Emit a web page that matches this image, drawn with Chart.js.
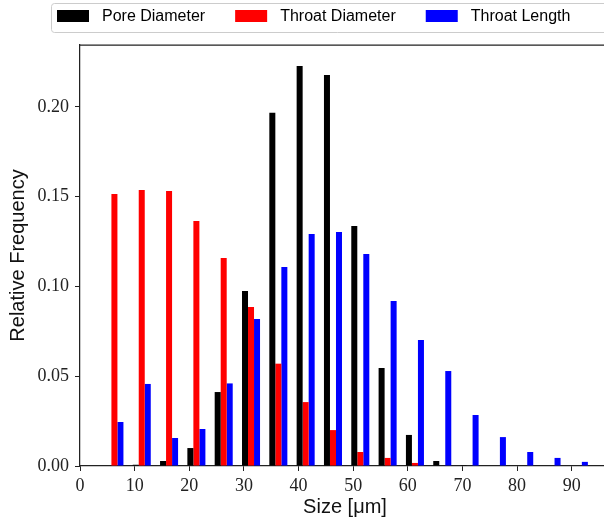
<!DOCTYPE html>
<html>
<head>
<meta charset="utf-8">
<script src="https://cdn.jsdelivr.net/npm/chart.js@4.4.1/dist/chart.umd.min.js"></script>
<style>
  html, body { margin: 0; padding: 0; overflow: hidden; background: #fff; }
  #wrap { width: 620px; height: 523px; }
</style>
</head>
<body>
<div id="wrap"><canvas id="histChart"></canvas></div>
<script>
// bin start of each group of bars (um)
const bins = [0, 5, 10, 15, 20, 25, 30, 35, 40, 45, 50, 55, 60, 65, 70, 75, 80, 85, 90];

// relative frequency per bin
const poreDiameter   = [0, 0, 0.0007, 0.0028, 0.010, 0.0412, 0.0975, 0.1967, 0.2228, 0.2178, 0.1337, 0.0546, 0.0173, 0.0028, 0.0005, 0, 0, 0, 0];
const throatDiameter = [0, 0.1515, 0.1538, 0.1532, 0.1365, 0.1159, 0.0886, 0.0570, 0.0356, 0.0200, 0.0078, 0.0045, 0.0017, 0, 0, 0, 0, 0, 0];
const throatLength   = [0, 0.0245, 0.0457, 0.0156, 0.0206, 0.0460, 0.0819, 0.1109, 0.1292, 0.1304, 0.1181, 0.0919, 0.0702, 0.0529, 0.0284, 0.0161, 0.0078, 0.0045, 0.0023];

const xTickStep = 10;
const yTicks = [0, 0.05, 0.10, 0.15, 0.20];

const groupOffset = 1.3; // groups sit a little right of the bin start

function toPoints(values) {
    return bins.map((b, i) => ({ x: b + groupOffset, y: values[i] }));
}

const axisColor = '#222';
const serifTicks = { family: '"Liberation Serif", "DejaVu Serif", serif', size: 18 };
const sansTitle = { family: '"Liberation Sans", Arial, sans-serif', size: 20 };

// matplotlib style legend box across the top
const legendBox = {
    id: 'legendBox',
    afterDraw(chart) {
        const ctx = chart.ctx;
        ctx.save();
        ctx.fillStyle = 'rgba(255,255,255,0.8)';
        ctx.strokeStyle = '#cccccc';
        ctx.lineWidth = 1;
        ctx.beginPath();
        ctx.roundRect(51.5, 3.5, 600, 29, 3);
        ctx.fill();
        ctx.stroke();

        ctx.font = '16px "Liberation Sans", Arial, sans-serif';
        ctx.textBaseline = 'middle';
        let x = 57;
        chart.data.datasets.forEach(ds => {
            ctx.fillStyle = ds.backgroundColor;
            ctx.fillRect(x, 10, 32, 12);
            ctx.fillStyle = '#000';
            ctx.fillText(ds.label, x + 45, 17);
            x += 45 + ctx.measureText(ds.label).width + 30;
        });
        ctx.restore();
    }
};

// top and right frame lines of the axes
const topFrame = {
    id: 'topFrame',
    afterDraw(chart) {
        const { ctx, chartArea } = chart;
        ctx.save();
        ctx.strokeStyle = axisColor;
        ctx.lineWidth = 1.25;
        ctx.beginPath();
        ctx.moveTo(chartArea.left, chartArea.top);
        ctx.lineTo(chartArea.right, chartArea.top);
        ctx.lineTo(chartArea.right, chartArea.bottom);
        ctx.stroke();
        ctx.restore();
    }
};

const ctx = document.getElementById('histChart').getContext('2d');
const histChart = new Chart(ctx, {
    type: 'bar',
    data: {
        datasets: [
            { label: 'Pore Diameter', data: toPoints(poreDiameter), backgroundColor: '#000000' },
            { label: 'Throat Diameter', data: toPoints(throatDiameter), backgroundColor: '#ff0000' },
            { label: 'Throat Length', data: toPoints(throatLength), backgroundColor: '#0000ff' }
        ]
    },
    options: {
        responsive: true,
        maintainAspectRatio: false,
        animation: false,
        layout: { padding: { top: 45, right: 10, left: 0, bottom: 0 } },
        datasets: {
            bar: { categoryPercentage: 0.66, barPercentage: 1.0, borderWidth: 0 }
        },
        plugins: {
            legend: { display: false },
            tooltip: { enabled: false }
        },
        scales: {
            x: {
                type: 'linear',
                min: 0,
                max: 97,
                offset: false,
                afterFit: s => { s.height = 57; },
                ticks: {
                    stepSize: xTickStep,
                    includeBounds: false,
                    color: '#222',
                    font: serifTicks,
                    padding: 4,
                    maxRotation: 0
                },
                grid: { offset: false, drawOnChartArea: false, drawTicks: true, tickLength: 5, color: axisColor, lineWidth: 1 },
                border: { color: axisColor, width: 1.25 },
                title: { display: true, text: 'Size [μm]', color: '#111', font: sansTitle, padding: { top: 2, bottom: 4 } }
            },
            y: {
                min: 0,
                max: 0.2345,
                afterFit: s => { s.width = 80; },
                afterBuildTicks: s => { s.ticks = yTicks.map(v => ({ value: v })); },
                ticks: {
                    color: '#222',
                    font: serifTicks,
                    padding: 6,
                    callback: v => v.toFixed(2)
                },
                grid: { drawOnChartArea: false, drawTicks: true, tickLength: 5, color: axisColor, lineWidth: 1 },
                border: { color: axisColor, width: 1.25 },
                title: { display: true, text: 'Relative Frequency', color: '#111', font: sansTitle, padding: { top: 6, bottom: 2 } }
            }
        }
    },
    plugins: [legendBox, topFrame]
});
</script>
</body>
</html>
